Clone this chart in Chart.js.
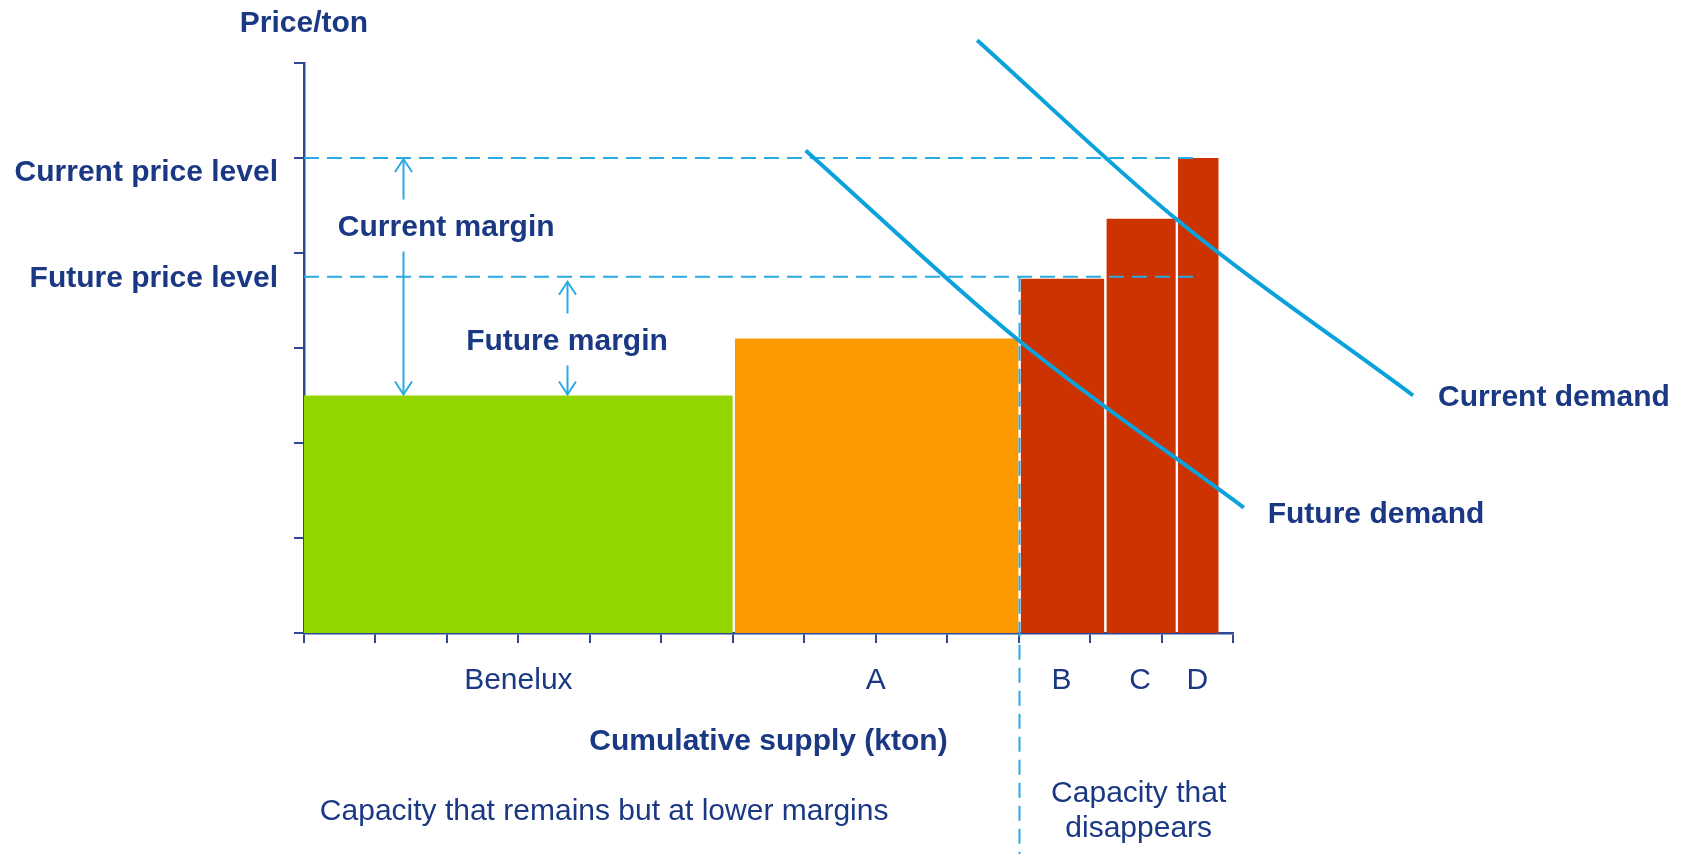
<!DOCTYPE html>
<html>
<head>
<meta charset="utf-8">
<title>Cost curve: Benelux supply vs. demand</title>
<script src="https://cdn.jsdelivr.net/npm/chart.js@4.4.1/dist/chart.umd.min.js"></script>
<style>
  html, body { margin: 0; padding: 0; background: #ffffff; overflow: hidden; }
  canvas { display: block; }
</style>
</head>
<body>
<canvas id="costCurve" width="1688" height="854"></canvas>
<script>
// ---- data -------------------------------------------------------------
const suppliers = ['Benelux', 'A', 'B', 'C', 'D'];
const capacity = [6, 4, 1.2, 1.0, 0.6];            // kton per supplier
const costPerTon = [2.5, 3.1, 3.73, 4.36, 5.0];    // cost level per supplier
const priceLevelNames = ['Current price level', 'Future price level'];
const priceLevels = [5.0, 3.75];
const currentDemandX = [9.42, 12.2, 15.52];
const currentDemandY = [6.24, 4.36, 2.5];
const futureDemandX = [7.02, 9.97, 13.15];
const futureDemandY = [5.08, 3.1, 1.32];
const xAxisMax = 13;
const yAxisMax = 6;

// ---- styles -----------------------------------------------------------
const NAVY = '#1A3883';
const AXIS = '#2E4A96';
const DEMAND = '#0BA2DC';
const GUIDE = '#2AAAE2';
const supplierColors = ['#93D500', '#FC9900', '#CC3300', '#CC3300', '#CC3300'];
const FONT = '"Liberation Sans", Arial, Helvetica, sans-serif';
const SEAM = 0.028;   // thin white seam between neighbouring blocks (kton)
const DASH = [15, 8];

// cumulative start of every supplier block
const starts = [];
let acc = 0;
capacity.forEach(c => { starts.push(acc); acc += c; });
const ends = starts.map((s, i) => s + capacity[i]);
const lastIdx = suppliers.length - 1;
const priceLineEnd = starts[lastIdx] + capacity[lastIdx] / 2;
const firstClosingIdx = 2; // B, C and D drop out

// ---- datasets ---------------------------------------------------------
const blockSets = suppliers.map((name, i) => ({
  label: name,
  data: [
    { x: starts[i] + (i ? SEAM : 0), y: costPerTon[i] },
    { x: ends[i], y: costPerTon[i] }
  ],
  fill: 'origin',
  backgroundColor: supplierColors[i],
  borderColor: 'rgba(0,0,0,0)',
  borderWidth: 1,
  pointRadius: 0,
  order: 3
}));

const priceSets = priceLevels.map((p, i) => ({
  label: priceLevelNames[i],
  data: [{ x: 0, y: p }, { x: priceLineEnd, y: p }],
  borderColor: GUIDE,
  borderWidth: 2,
  borderDash: DASH,
  pointRadius: 0,
  fill: false,
  order: 1
}));

const demandSet = (label, xs, ys) => ({
  label,
  data: xs.map((x, i) => ({ x, y: ys[i] })),
  borderColor: DEMAND,
  borderWidth: 4,
  pointRadius: 0,
  fill: false,
  cubicInterpolationMode: 'monotone',
  clip: false,
  order: 0
});

// ---- annotations (text, arrows, divider) -------------------------------
const marginNotes = [
  { text: 'Current margin', x: 1.39, from: priceLevels[0], to: costPerTon[0], labelX: 1.99, labelY: 4.28, tipOffset: 1 },
  { text: 'Future margin',  x: 3.68, from: priceLevels[1], to: costPerTon[0], labelX: 3.68, labelY: 3.08, tipOffset: 5 }
];
const levelLabelY = [4.86, 3.74];

function text(ctx, str, x, y, opts = {}) {
  ctx.save();
  ctx.font = (opts.bold ? 'bold ' : '') + '30px ' + FONT;
  ctx.fillStyle = NAVY;
  ctx.textAlign = opts.align || 'center';
  ctx.textBaseline = 'middle';
  ctx.fillText(str, x, y + 1);
  ctx.restore();
}

function arrowHead(ctx, x, y, dir) {
  // open chevron; dir = -1 points up, +1 points down
  ctx.beginPath();
  ctx.moveTo(x - 8.5, y - dir * 13);
  ctx.lineTo(x, y);
  ctx.lineTo(x + 8.5, y - dir * 13);
  ctx.stroke();
}

const annotations = {
  id: 'annotations',
  afterDraw(chart) {
    const { ctx, chartArea: area, scales: { x: xs, y: ys } } = chart;

    // divider between remaining and disappearing capacity
    ctx.save();
    ctx.strokeStyle = GUIDE;
    ctx.lineWidth = 2;
    ctx.setLineDash(DASH);
    const dx = Math.round(xs.getPixelForValue(starts[firstClosingIdx])) + 0.5;
    ctx.beginPath();
    ctx.moveTo(dx, ys.getPixelForValue(priceLevels[1]));
    ctx.lineTo(dx, chart.height);
    ctx.stroke();
    ctx.restore();

    // margin arrows
    ctx.save();
    ctx.strokeStyle = GUIDE;
    ctx.lineWidth = 2;
    marginNotes.forEach(n => {
      const ax = Math.round(xs.getPixelForValue(n.x)) + 0.5;
      const top = ys.getPixelForValue(n.from) + n.tipOffset;
      const bottom = ys.getPixelForValue(n.to) - 1;
      const ly = ys.getPixelForValue(n.labelY);
      ctx.beginPath();
      ctx.moveTo(ax, top); ctx.lineTo(ax, ly - 27);
      ctx.moveTo(ax, ly + 25); ctx.lineTo(ax, bottom);
      ctx.stroke();
      arrowHead(ctx, ax, top, -1);
      arrowHead(ctx, ax, bottom, 1);
    });
    ctx.restore();

    marginNotes.forEach(n => {
      text(ctx, n.text, xs.getPixelForValue(n.labelX), ys.getPixelForValue(n.labelY), { bold: true });
    });

    // axis titles and level names
    text(ctx, 'Price/ton', area.left, area.top - 40, { bold: true });
    priceLevelNames.forEach((name, i) => {
      text(ctx, name, area.left - 26, ys.getPixelForValue(levelLabelY[i]), { bold: true, align: 'right' });
    });
    text(ctx, 'Cumulative supply (kton)', (area.left + area.right) / 2, area.bottom + 108, { bold: true });

    // supplier names under the centre of each block
    suppliers.forEach((name, i) => {
      text(ctx, name, xs.getPixelForValue(starts[i] + capacity[i] / 2), area.bottom + 47);
    });

    // demand curve names next to their ends
    const cdx = currentDemandX[currentDemandX.length - 1], cdy = currentDemandY[currentDemandY.length - 1];
    text(ctx, 'Current demand', xs.getPixelForValue(cdx) + 25, ys.getPixelForValue(cdy) + 1, { bold: true, align: 'left' });
    const fdx = futureDemandX[futureDemandX.length - 1], fdy = futureDemandY[futureDemandY.length - 1];
    text(ctx, 'Future demand', xs.getPixelForValue(fdx) + 24, ys.getPixelForValue(fdy) + 6, { bold: true, align: 'left' });

    // capacity group notes
    text(ctx, 'Capacity that remains but at lower margins', xs.getPixelForValue(4.2), area.bottom + 178);
    const closeX = xs.getPixelForValue(11.68);
    text(ctx, 'Capacity that', closeX, area.bottom + 160);
    text(ctx, 'disappears', closeX, area.bottom + 195);
  }
};

// ---- chart ------------------------------------------------------------
const axisCommon = {
  type: 'linear',
  z: 1,
  ticks: { display: false, stepSize: 1 },
  grid: { drawOnChartArea: false, drawTicks: true, tickLength: 10, color: AXIS, lineWidth: 2 },
  border: { display: true, color: AXIS, width: 2.5 }
};

new Chart(document.getElementById('costCurve'), {
  type: 'line',
  data: {
    datasets: [
      demandSet('Current demand', currentDemandX, currentDemandY),
      demandSet('Future demand', futureDemandX, futureDemandY),
      ...priceSets,
      ...blockSets
    ]
  },
  options: {
    responsive: false,
    animation: false,
    events: [],
    devicePixelRatio: 1,
    layout: { padding: { left: 294, right: 455, top: 63, bottom: 211 } },
    plugins: { legend: { display: false }, tooltip: { enabled: false } },
    scales: {
      x: { ...axisCommon, min: 0, max: xAxisMax, afterFit: s => { s.height = 10; } },
      y: { ...axisCommon, min: 0, max: yAxisMax, afterFit: s => { s.width = 10; } }
    }
  },
  plugins: [annotations]
});
</script>
</body>
</html>
